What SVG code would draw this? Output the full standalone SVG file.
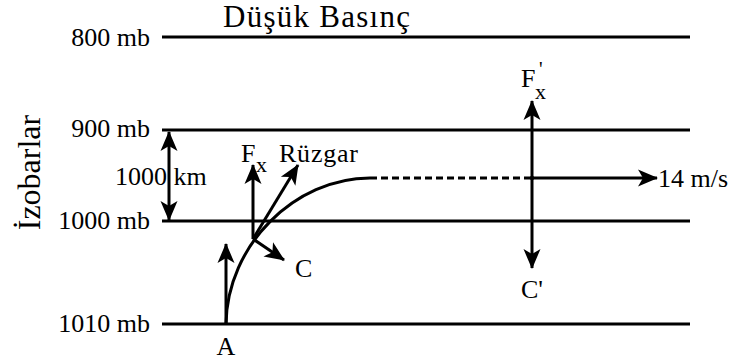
<svg xmlns="http://www.w3.org/2000/svg" width="731" height="361" viewBox="0 0 731 361">
<style>
  text { font-family: "Liberation Serif", "Times New Roman", serif; fill: #000; }
  .iso { stroke: #000; stroke-width: 3.2; fill: none; }
  .arr { stroke: #000; stroke-width: 3; fill: none; }
  .lbl { font-size: 26px; }
</style>
<defs>
  <marker id="ah" markerUnits="userSpaceOnUse" markerWidth="24" markerHeight="20" viewBox="-2 -10 24 20" refX="19" refY="0" orient="auto-start-reverse">
    <path d="M0,-8.5 L20,0 L0,8.5 L5,0 Z" fill="#000"/>
  </marker>
</defs>
<rect width="731" height="361" fill="#fff"/>

<g id="title">
  <text x="223" y="27" font-size="31" textLength="187">Düşük Basınç</text>
</g>
<g id="axis-label">
  <text transform="translate(40,172.5) rotate(-90)" text-anchor="middle" font-size="32">İzobarlar</text>
</g>

<g id="isobar-800">
  <line class="iso" x1="162" y1="37" x2="690" y2="37"/>
  <text class="lbl" x="150" y="46" text-anchor="end">800 mb</text>
</g>
<g id="isobar-900">
  <line class="iso" x1="162" y1="130" x2="690" y2="130"/>
  <text class="lbl" x="150" y="137" text-anchor="end">900 mb</text>
</g>
<g id="isobar-1000">
  <line class="iso" x1="162" y1="221" x2="690" y2="221"/>
  <text class="lbl" x="150" y="229" text-anchor="end">1000 mb</text>
</g>
<g id="isobar-1010">
  <line class="iso" x1="162" y1="324" x2="690" y2="324"/>
  <text class="lbl" x="150" y="332" text-anchor="end">1010 mb</text>
</g>

<g id="connectors">
  <line class="arr" x1="169" y1="176" x2="169" y2="132" marker-end="url(#ah)"/>
  <line class="arr" x1="169" y1="176" x2="169" y2="220" marker-end="url(#ah)"/>
  <path class="arr" d="M226,324 C227,245 295,178 370,178"/>
  <line class="arr" x1="370" y1="178" x2="532" y2="178" stroke-dasharray="7,4"/>
  <line class="arr" x1="532" y1="178" x2="657" y2="178" marker-end="url(#ah)"/>
  <line class="arr" x1="226" y1="324" x2="226" y2="244" marker-end="url(#ah)"/>
  <line class="arr" x1="253" y1="239" x2="253" y2="165" marker-end="url(#ah)"/>
  <line class="arr" x1="253" y1="239" x2="298" y2="165" marker-end="url(#ah)"/>
  <line class="arr" x1="253" y1="239" x2="284" y2="260" marker-end="url(#ah)"/>
  <line class="arr" x1="532" y1="180" x2="532" y2="101" marker-end="url(#ah)"/>
  <line class="arr" x1="532" y1="176" x2="532" y2="268" marker-end="url(#ah)"/>
</g>

<g id="label-1000km">
  <text class="lbl" x="115" y="185">1000 km</text>
</g>
<g id="label-A">
  <text class="lbl" x="226" y="355" text-anchor="middle">A</text>
</g>
<g id="label-Fx">
  <text class="lbl" x="241" y="162">F</text>
  <text x="256" y="172" font-size="22">x</text>
</g>
<g id="label-ruzgar">
  <text class="lbl" x="279" y="162" textLength="79">Rüzgar</text>
</g>
<g id="label-C">
  <text class="lbl" x="295" y="277">C</text>
</g>
<g id="label-Fx-prime">
  <text class="lbl" x="521" y="87">F</text>
  <text x="539" y="76" font-size="20">'</text>
  <text x="535" y="99" font-size="22">x</text>
</g>
<g id="label-C-prime">
  <text class="lbl" x="532" y="298" text-anchor="middle">C'</text>
</g>
<g id="label-speed">
  <text class="lbl" x="658" y="187">14 m/s</text>
</g>
</svg>
